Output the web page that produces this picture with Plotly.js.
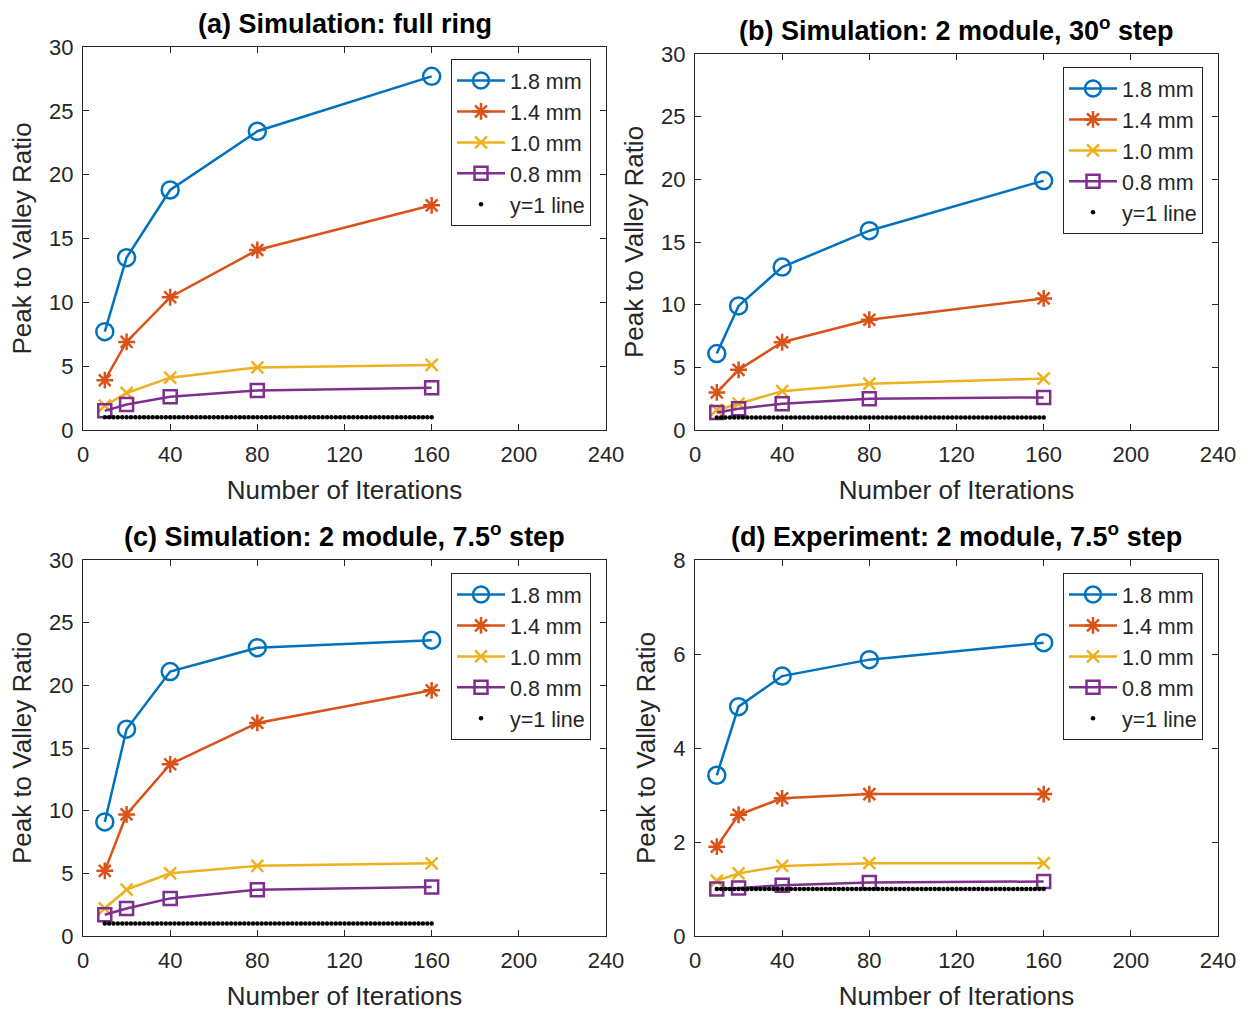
<!DOCTYPE html>
<html><head><meta charset="utf-8">
<script src="https://cdn.plot.ly/plotly-3.0.1.min.js"></script>
<style>html,body{margin:0;padding:0;background:#fff;}#chart{width:1259px;height:1013px;}</style>
</head><body><div id="chart"></div>
<script>
// ---- data ----
const iterations = [10, 20, 40, 80, 160];
const seriesNames = ['1.8 mm', '1.4 mm', '1.0 mm', '0.8 mm'];
const refLineName = 'y=1 line';

// (a) Simulation: full ring
const a_18 = [7.7, 13.5, 18.8, 23.4, 27.7];
const a_14 = [3.9, 6.9, 10.4, 14.1, 17.6];
const a_10 = [1.9, 2.9, 4.1, 4.9, 5.1];
const a_08 = [1.5, 2.0, 2.6, 3.1, 3.3];
// (b) Simulation: 2 module, 30 deg step
const b_18 = [6.1, 9.9, 13.0, 15.9, 19.9];
const b_14 = [3.0, 4.8, 7.0, 8.8, 10.5];
const b_10 = [1.6, 2.1, 3.1, 3.7, 4.1];
const b_08 = [1.4, 1.7, 2.1, 2.5, 2.6];
// (c) Simulation: 2 module, 7.5 deg step
const c_18 = [9.1, 16.5, 21.1, 23.0, 23.6];
const c_14 = [5.2, 9.7, 13.7, 17.0, 19.6];
const c_10 = [2.2, 3.7, 5.0, 5.6, 5.8];
const c_08 = [1.7, 2.2, 3.0, 3.7, 3.9];
// (d) Experiment: 2 module, 7.5 deg step
const d_18 = [3.42, 4.88, 5.53, 5.88, 6.24];
const d_14 = [1.90, 2.58, 2.93, 3.02, 3.02];
const d_10 = [1.18, 1.33, 1.49, 1.55, 1.55];
const d_08 = [1.00, 1.02, 1.08, 1.14, 1.16];

// y = 1 reference line sample points
const refX = [10,12,14,16,18,20,22,24,26,28,30,32,34,36,38,40,42,44,46,48,50,52,54,56,58,60,
  62,64,66,68,70,72,74,76,78,80,82,84,86,88,90,92,94,96,98,100,102,104,106,108,110,112,114,116,
  118,120,122,124,126,128,130,132,134,136,138,140,142,144,146,148,150,152,154,156,158,160];
const refY = refX.map(() => 1);

const xTicks = [0, 40, 80, 120, 160, 200, 240];

const panelTitles = [
  '(a) Simulation: full ring',
  '(b) Simulation: 2 module, 30<sup>o</sup> step',
  '(c) Simulation: 2 module, 7.5<sup>o</sup> step',
  '(d) Experiment: 2 module, 7.5<sup>o</sup> step'
];
const xTitle = 'Number of Iterations';
const yTitle = 'Peak to Valley Ratio';

// ---- styling ----
const colors = ['#0072BD', '#D95319', '#EDB120', '#7E2F8E'];
const symbols = ['circle-open', 'asterisk-open', 'x-thin-open', 'square-open'];
const msizes = [17, 14, 12, 13];
const txt = '#262626';
const FONT = 'Liberation Sans, Arial, sans-serif';
const W = 1259, H = 1013;

const panels = [
  {data: [a_18, a_14, a_10, a_08], x: [83, 606], y: [47, 430], ymax: 30, dtick: 5, leg: [451, 59]},
  {data: [b_18, b_14, b_10, b_08], x: [695, 1218], y: [54, 430], ymax: 30, dtick: 5, leg: [1063, 67]},
  {data: [c_18, c_14, c_10, c_08], x: [83, 606], y: [560, 936], ymax: 30, dtick: 5, leg: [451, 573]},
  {data: [d_18, d_14, d_10, d_08], x: [695, 1218], y: [560, 936], ymax: 8, dtick: 2, leg: [1063, 573]}
];

const traces = [];
const layout = {
  width: W, height: H,
  margin: {l: 0, r: 0, t: 0, b: 0},
  paper_bgcolor: '#fff', plot_bgcolor: '#fff',
  font: {family: FONT, color: txt, size: 21},
  showlegend: true,
  annotations: []
};

panels.forEach((p, i) => {
  const n = i + 1;
  const xa = n === 1 ? 'x' : 'x' + n;
  const ya = n === 1 ? 'y' : 'y' + n;
  const lg = n === 1 ? 'legend' : 'legend' + n;
  p.data.forEach((vals, k) => {
    traces.push({
      x: iterations, y: vals, name: seriesNames[k], xaxis: xa, yaxis: ya, legend: lg,
      type: 'scatter', mode: 'lines+markers',
      line: {color: colors[k], width: 2.5},
      marker: {symbol: symbols[k], size: msizes[k], color: colors[k], line: {color: colors[k], width: 2.5}},
      cliponaxis: false
    });
  });
  traces.push({
    x: refX, y: refY, name: refLineName, xaxis: xa, yaxis: ya, legend: lg,
    type: 'scatter', mode: 'markers',
    marker: {symbol: 'circle', size: 4.5, color: '#000'}
  });
  const axBase = {
    showline: true, linecolor: txt, linewidth: 1, mirror: 'ticks',
    ticks: 'inside', ticklen: 6, tickwidth: 1, tickcolor: txt,
    showgrid: false, zeroline: false, automargin: false,
    tickfont: {family: FONT, size: 22, color: txt}
  };
  layout['xaxis' + (n === 1 ? '' : n)] = Object.assign({}, axBase, {
    domain: [p.x[0] / W, p.x[1] / W], anchor: ya,
    range: [0, 240], tickvals: xTicks, ticklabelstandoff: 5,
    title: {text: xTitle, font: {family: FONT, size: 26, color: txt}, standoff: 14}
  });
  layout['yaxis' + (n === 1 ? '' : n)] = Object.assign({}, axBase, {
    domain: [1 - p.y[1] / H, 1 - p.y[0] / H], anchor: xa,
    range: [0, p.ymax], dtick: p.dtick, tick0: 0, ticklabelstandoff: 4,
    title: {text: yTitle, font: {family: FONT, size: 26, color: txt}, standoff: 10}
  });
  layout[lg] = {
    x: p.leg[0] / W, y: 1 - p.leg[1] / H, xanchor: 'left', yanchor: 'top',
    xref: 'paper', yref: 'paper',
    bgcolor: '#fff', bordercolor: txt, borderwidth: 1,
    font: {family: FONT, size: 21.5, color: txt},
    tracegroupgap: 0, itemwidth: 48
  };
  layout.annotations.push({
    text: '<b>' + panelTitles[i] + '</b>',
    xref: 'paper', yref: 'paper',
    x: (p.x[0] + p.x[1]) / 2 / W, y: 1 - (p.y[0] - 6) / H,
    xanchor: 'center', yanchor: 'bottom', showarrow: false,
    font: {family: FONT, size: 27, color: '#000'}
  });
});

Plotly.newPlot('chart', traces, layout, {displayModeBar: false, staticPlot: true});
</script>
</body></html>
